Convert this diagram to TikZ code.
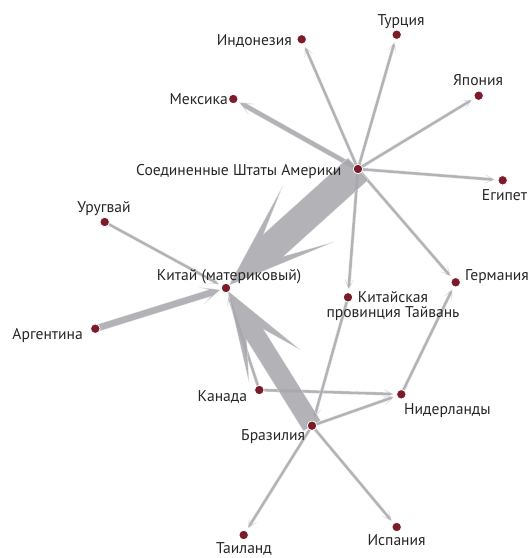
\documentclass[tikz,border=0pt]{standalone}
\usepackage{fontspec}
\setmainfont{PT Sans}
\usetikzlibrary{calc,backgrounds}
\definecolor{dotred}{RGB}{122,28,42}
\definecolor{flowgray}{RGB}{168,167,172}
\tikzset{
  country/.style={circle,fill=dotred,draw=white,line width=0.8pt,minimum size=9.5pt,inner sep=0pt},
  lbl/.style={font=\fontsize{15.6}{15}\selectfont,inner sep=0pt,text=black!85},
  flowstyle/.style={fill=flowgray,fill opacity=0.88,draw=white!85!flowgray,draw opacity=0.7,line width=0.4pt,line join=miter},
}
% \flow{src}{tgt}{shaft half width}{barb half width}{notch back}{barb back}{gap at target}
\newcommand{\flow}[7]{%
  \coordinate (fT) at ($(#2)!#7!(#1)$);
  \coordinate (fS) at (#1);
  \coordinate (fN) at ($(fT)!#5!(fS)$);
  \coordinate (fB) at ($(fT)!#6!(fS)$);
  \filldraw[flowstyle] ($(fS)!#3!-90:(fT)$) -- ($(fN)!#3!90:(fS)$) -- ($(fB)!#4!90:(fS)$) -- (fT)
     -- ($(fB)!#4!-90:(fS)$) -- ($(fN)!#3!-90:(fS)$) -- ($(fS)!#3!90:(fT)$) -- cycle;
}
\newcommand{\thinflow}[2]{\flow{#1}{#2}{1.5pt}{4.5pt}{5pt}{10pt}{8pt}}
\begin{document}
\begin{tikzpicture}[x=1pt,y=-1pt]
\useasboundingbox (0,0) rectangle (531,558);
% country dots
\node[country] (usa) at (358,169) {};
\node[country] (indonesia) at (301.7,39.3) {};
\node[country] (turkey) at (396.7,34.7) {};
\node[country] (japan) at (478.7,95.7) {};
\node[country] (mexico) at (233.3,99) {};
\node[country] (egypt) at (502.7,180.3) {};
\node[country] (china) at (226,288) {};
\node[country] (uruguay) at (104.7,222) {};
\node[country] (argentina) at (95.3,328.7) {};
\node[country] (canada) at (259.3,390) {};
\node[country] (brazil) at (312,425.7) {};
\node[country] (taiwan) at (348,297.3) {};
\node[country] (germany) at (455.7,282.3) {};
\node[country] (netherlands) at (401.3,394.3) {};
\node[country] (thailand) at (243.7,535) {};
\node[country] (spain) at (396.7,527) {};
% flows
\begin{pgfonlayer}{background}
\thinflow{usa}{indonesia}
\thinflow{usa}{turkey}
\thinflow{usa}{japan}
\flow{usa}{mexico}{2.5pt}{6pt}{8pt}{14pt}{7pt}
\thinflow{usa}{egypt}
\thinflow{usa}{taiwan}
\thinflow{usa}{germany}
\thinflow{uruguay}{china}
\thinflow{canada}{china}
\flow{argentina}{china}{3.5pt}{8.6pt}{11pt}{19.5pt}{6pt}
\thinflow{canada}{netherlands}
\thinflow{brazil}{netherlands}
\thinflow{netherlands}{germany}
\thinflow{taiwan}{brazil}
\thinflow{brazil}{thailand}
\thinflow{brazil}{spain}
\flow{brazil}{china}{10pt}{30.6pt}{52pt}{89.5pt}{3pt}
\flow{usa}{china}{15pt}{38pt}{60pt}{107pt}{4pt}
\end{pgfonlayer}
% labels
\node[lbl,anchor=base east] (lindonesia) at (292,45) {Индонезия};
\node[lbl,anchor=base] (lturkey) at (401,25) {Турция};
\node[lbl,anchor=base] (ljapan) at (478,85) {Япония};
\node[lbl,anchor=base east] (lmexico) at (228,104) {Мексика};
\node[lbl,anchor=base west] (lusa) at (136,175.5) {Соединенные Штаты Америки};
\node[lbl,anchor=base west] (legypt) at (481.7,200) {Египет};
\node[lbl,anchor=base west] (luruguay) at (77.3,212) {Уругвай};
\node[lbl,anchor=base west] (lchina) at (156.7,280) {Китай (материковый)};
\node[lbl,anchor=base west] (largentina) at (12.3,339) {Аргентина};
\node[lbl,anchor=base west] (lcanada) at (197.3,401) {Канада};
\node[lbl,anchor=base west] (lbrazil) at (241,440.7) {Бразилия};
\node[lbl,anchor=north,align=center] (ltaiwan) at (393,291) {Китайская\\провинция Тайвань};
\node[lbl,anchor=base west] (lgermany) at (465,280) {Германия};
\node[lbl,anchor=base west] (lnetherlands) at (404,414) {Нидерланды};
\node[lbl,anchor=base west] (lthailand) at (216,553) {Таиланд};
\node[lbl,anchor=base west] (lspain) at (367.3,545.7) {Испания};
\end{tikzpicture}
\end{document}
